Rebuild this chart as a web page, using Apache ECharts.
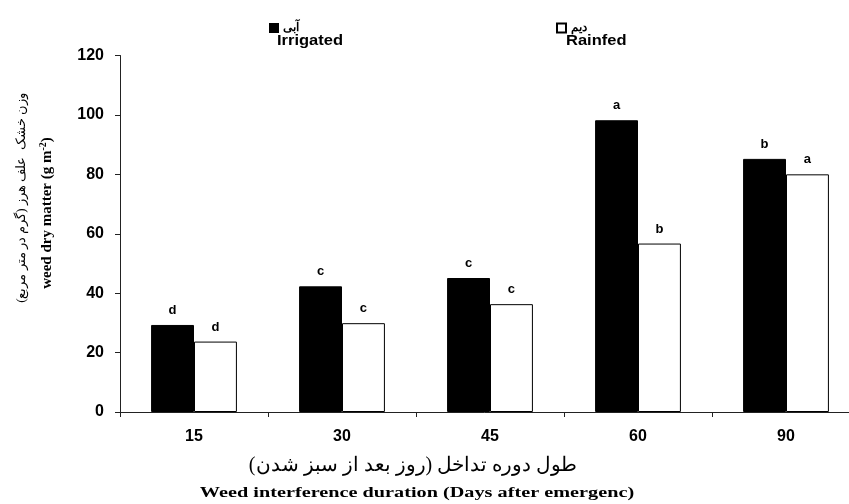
<!DOCTYPE html>
<html><head><meta charset="utf-8">
<script src="https://cdn.jsdelivr.net/npm/echarts@6/dist/echarts.min.js"></script>
<style>html,body{margin:0;padding:0;background:#fff}#c{width:849px;height:504px}</style>
</head><body><div id="c"></div>
<script>
var categories = ['15','30','45','60','90'];
var irrigated = [29.3, 42.3, 45.1, 98.2, 85.2];
var rainfed = [23.7, 29.9, 36.3, 56.7, 80.0];
var irrigatedLetters = ['d','c','c','a','b'];
var rainfedLetters = ['d','c','c','b','a'];
var yTicks = {min:0, max:120, interval:20};

var chart = echarts.init(document.getElementById('c'));
var lab = function(arr){return {show:true, position:'top', distance:8, color:'#000', fontFamily:'Arial', fontWeight:'bold', fontSize:13, formatter:function(p){return arr[p.dataIndex];}};};
chart.setOption({
  animation:false,
  grid:{left:120, width:740, top:55.5, bottom:92, outerBoundsMode:'none', containLabel:false},
  legend:[
    {left:264, top:17, itemWidth:8, itemHeight:8, itemGap:4, data:['Irrigated'], icon:'rect',
     formatter:function(){return 'آبی';}, textStyle:{fontFamily:'Arial', fontWeight:'bold', fontSize:12, color:'#000'}},
    {left:551, top:17, itemWidth:9, itemHeight:9, itemGap:4, data:['Rainfed'], icon:'rect',
     formatter:function(){return 'دیم';}, textStyle:{fontFamily:'Arial', fontWeight:'bold', fontSize:12, color:'#000'}}
  ],
  xAxis:{type:'category', data:categories,
    axisLine:{lineStyle:{color:'#222', width:1}},
    axisTick:{show:true, length:5, lineStyle:{color:'#222'}},
    axisLabel:{color:'#000', fontFamily:'Arial', fontWeight:'bold', fontSize:16, margin:17}},
  yAxis:{type:'value', min:yTicks.min, max:yTicks.max, interval:yTicks.interval,
    splitLine:{show:false},
    axisLine:{show:true, lineStyle:{color:'#222', width:1}},
    axisTick:{show:true, length:5, lineStyle:{color:'#222'}},
    axisLabel:{color:'#000', fontFamily:'Arial', fontWeight:'bold', fontSize:16, margin:16}},
  series:[
    {name:'Irrigated', type:'bar', data:irrigated, barGap:'0%', barCategoryGap:'42%',
     itemStyle:{color:'#000', borderColor:'#000', borderWidth:1}, label:lab(irrigatedLetters)},
    {name:'Rainfed', type:'bar', data:rainfed,
     itemStyle:{color:'#fff', borderColor:'#000', borderWidth:1}, label:lab(rainfedLetters)}
  ],
  graphic:[
    {type:'text', x:277, y:33, scaleX:1.1, style:{text:'Irrigated', font:'bold 15px Arial', fill:'#000'}},
    {type:'text', x:566, y:33, scaleX:1.1, style:{text:'Rainfed', font:'bold 15px Arial', fill:'#000'}},
    {type:'text', x:22, y:198, rotation:Math.PI/2, style:{text:'وزن خشک  علف هرز (گرم در متر مربع)', font:'13px "Times New Roman", "DejaVu Serif", serif', fill:'#000', align:'center', verticalAlign:'middle'}},
    {type:'text', x:47, y:213, rotation:Math.PI/2, style:{
      text:'{b|weed dry matter (g m}{s|-2}{b|)}', align:'center', verticalAlign:'middle',
      rich:{b:{font:'bold 15px "Liberation Serif", "Times New Roman", serif', fill:'#000'}, s:{font:'bold 10px "Liberation Serif", serif', fill:'#000', verticalAlign:'top', padding:[0,0,8,0]}}}},
    {type:'text', x:413, y:466, style:{text:'طول دوره تداخل (روز بعد از سبز شدن)', font:'20px "Times New Roman", "DejaVu Serif", serif', fill:'#000', align:'center', verticalAlign:'middle'}},
    {type:'text', x:417, y:493, scaleX:1.35, style:{text:'Weed interference duration (Days after emergenc)', font:'bold 15px "Liberation Serif", "Times New Roman", serif', fill:'#000', align:'center', verticalAlign:'middle'}}
  ]
});
</script></body></html>
